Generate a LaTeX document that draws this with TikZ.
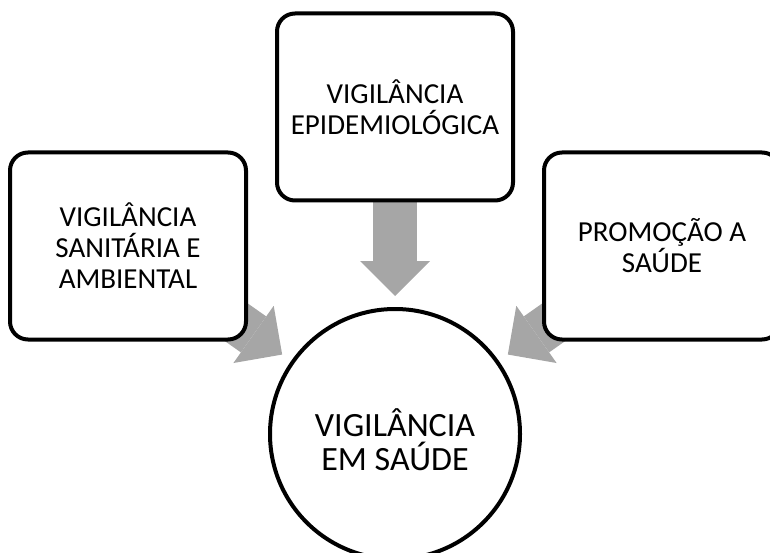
\documentclass[tikz,border=0pt]{standalone}
\usepackage{fontspec}
\setmainfont{Carlito}
\usepackage{tikz}
\usetikzlibrary{arrows.meta,backgrounds}

\definecolor{arrowgray}{RGB}{166,166,166}

\begin{document}
\begin{tikzpicture}[
			x=1pt, y=-1pt,
			every node/.style={align=center},
			box/.style={rectangle, draw, fill=white, line width=4pt, rounded corners=18pt,
				minimum width=236pt, minimum height=187pt,
				font=\fontsize{29pt}{31pt}\selectfont},
			hub/.style={circle, draw, fill=white, line width=4pt, minimum size=250pt,
				font=\fontsize{34pt}{34pt}\selectfont},
			bigarrow/.style={-{Triangle[length=35pt, width=70pt, line width=0pt]},
				line width=44pt, draw=arrowgray, shorten >=11pt}
		]

		\useasboundingbox (0,0) rectangle (770,553);
		\clip (0,0) rectangle (770,553);

		\node (saude) [hub] at (395,434) {\rule{0pt}{40pt}VIGILÂNCIA\\EM SAÚDE};
		\node (epidemio) [box] at (395,107) {VIGILÂNCIA\\EPIDEMIOLÓGICA};
		\node (sanitaria) [box] at (128,246) {VIGILÂNCIA\\SANITÁRIA E\\AMBIENTAL};
		\node (promocao) [box] at (662,246) {PROMOÇÃO A\\SAÚDE};

		% arrows - behind the boxes
		\begin{scope}[on background layer]
			\draw[bigarrow] (epidemio.center) -- (saude);
			\draw[bigarrow] (sanitaria.center) -- (saude);
			\draw[bigarrow] (promocao.center) -- (saude);
		\end{scope}
	\end{tikzpicture}
\end{document}
